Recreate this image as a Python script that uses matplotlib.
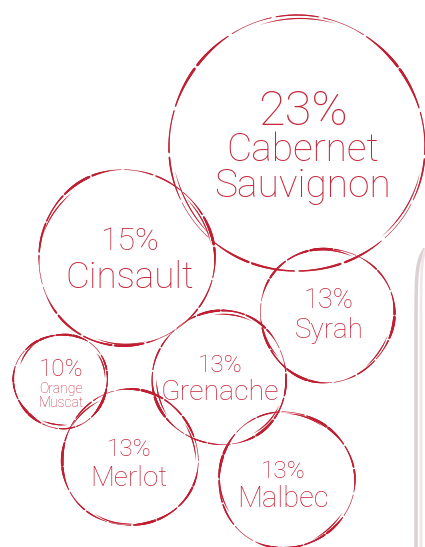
import numpy as np
import matplotlib
matplotlib.use("Agg")
import matplotlib.pyplot as plt
from matplotlib.collections import LineCollection

# Datos: porcentaje de cada variedad
varieties = ["Cabernet\nSauvignon", "Cinsault", "Syrah", "Orange\nMuscat",
             "Grenache", "Merlot", "Malbec"]
shares = [23, 15, 13, 10, 13, 13, 13]

# Disposición de los círculos (píxeles, origen arriba-izquierda)
centers_x = [297, 126, 327, 61, 220, 130, 286]
centers_y = [144, 258, 315, 381, 378, 458, 480]
radii = [128, 88, 67, 47, 67, 68, 68]
pct_size = [35, 23, 19.5, 17.5, 17.5, 17.5, 17.5]
name_size = [28, 26.5, 20, 10, 20.5, 20, 21]
text_dx = [6, 4, 2, 0, 0, -1, -3]
pct_dy = [-32, -17, -15, -11, -13, -8, -9]
name_dy = [24, 20, 16, 15, 14, 20, 19]

RED = "#C01F32"
TEXT_RED = "#C62639"
plt.rcParams["font.family"] = ["Roboto", "DejaVu Sans"]

fig = plt.figure(figsize=(4.25, 5.47), dpi=100)
ax = fig.add_axes([0, 0, 1, 1])
ax.set_xlim(0, 425)
ax.set_ylim(547, 0)
ax.set_aspect("equal")
ax.axis("off")


def anillo(cx, cy, r, fase):
    """Dibuja un anillo tipo mancha de copa: trazo de grosor irregular."""
    t = np.linspace(0, 2 * np.pi, 700)
    # trazo principal
    rr = r + 1.0 * np.sin(3 * t + fase)
    pts = np.column_stack([cx + rr * np.cos(t), cy + rr * np.sin(t)])
    segs = np.stack([pts[:-1], pts[1:]], axis=1)
    tm = t[:-1]
    mod = 0.5 + 0.5 * np.sin(2 * tm + fase * 1.7) * np.cos(5 * tm + fase)
    lw = 1.9 * np.clip(mod, 0.2, None)
    lw[np.sin(17 * tm + fase * 3) > 0.96] = 0
    ax.add_collection(LineCollection(segs, linewidths=lw, colors=RED,
                                     capstyle="round"))
    # trazo secundario, solo en algunos tramos
    rr2 = r - 2.5 + 0.8 * np.sin(4 * t + fase)
    pts2 = np.column_stack([cx + rr2 * np.cos(t), cy + rr2 * np.sin(t)])
    segs2 = np.stack([pts2[:-1], pts2[1:]], axis=1)
    mod2 = np.clip(np.sin(3 * tm + fase * 2.3) - 0.6, 0, None) * 2.2
    ax.add_collection(LineCollection(segs2, linewidths=0.9 * mod2,
                                     colors=RED, capstyle="round"))


for i, (name, pct) in enumerate(zip(varieties, shares)):
    cx, cy, r = centers_x[i], centers_y[i], radii[i]
    anillo(cx, cy, r, fase=i * 1.3)
    ax.text(cx + text_dx[i], cy + pct_dy[i], f"{pct}%", ha="center",
            va="center", fontsize=pct_size[i], color=TEXT_RED,
            fontweight="light")
    ax.text(cx + text_dx[i], cy + name_dy[i], name, ha="center", va="center",
            fontsize=name_size[i], color=TEXT_RED, fontweight="light",
            linespacing=0.95)

# Borde de la botella a la derecha
yb = np.linspace(250, 547, 50)
ax.plot(416 + 8 * np.exp(-(yb - 250) / 12), yb, color="#ddd0d3", lw=2.5)
ax.plot(421 + 4 * np.exp(-(yb - 250) / 12), yb, color="#efe6e8", lw=2)

fig.savefig("out.png", dpi=100)
